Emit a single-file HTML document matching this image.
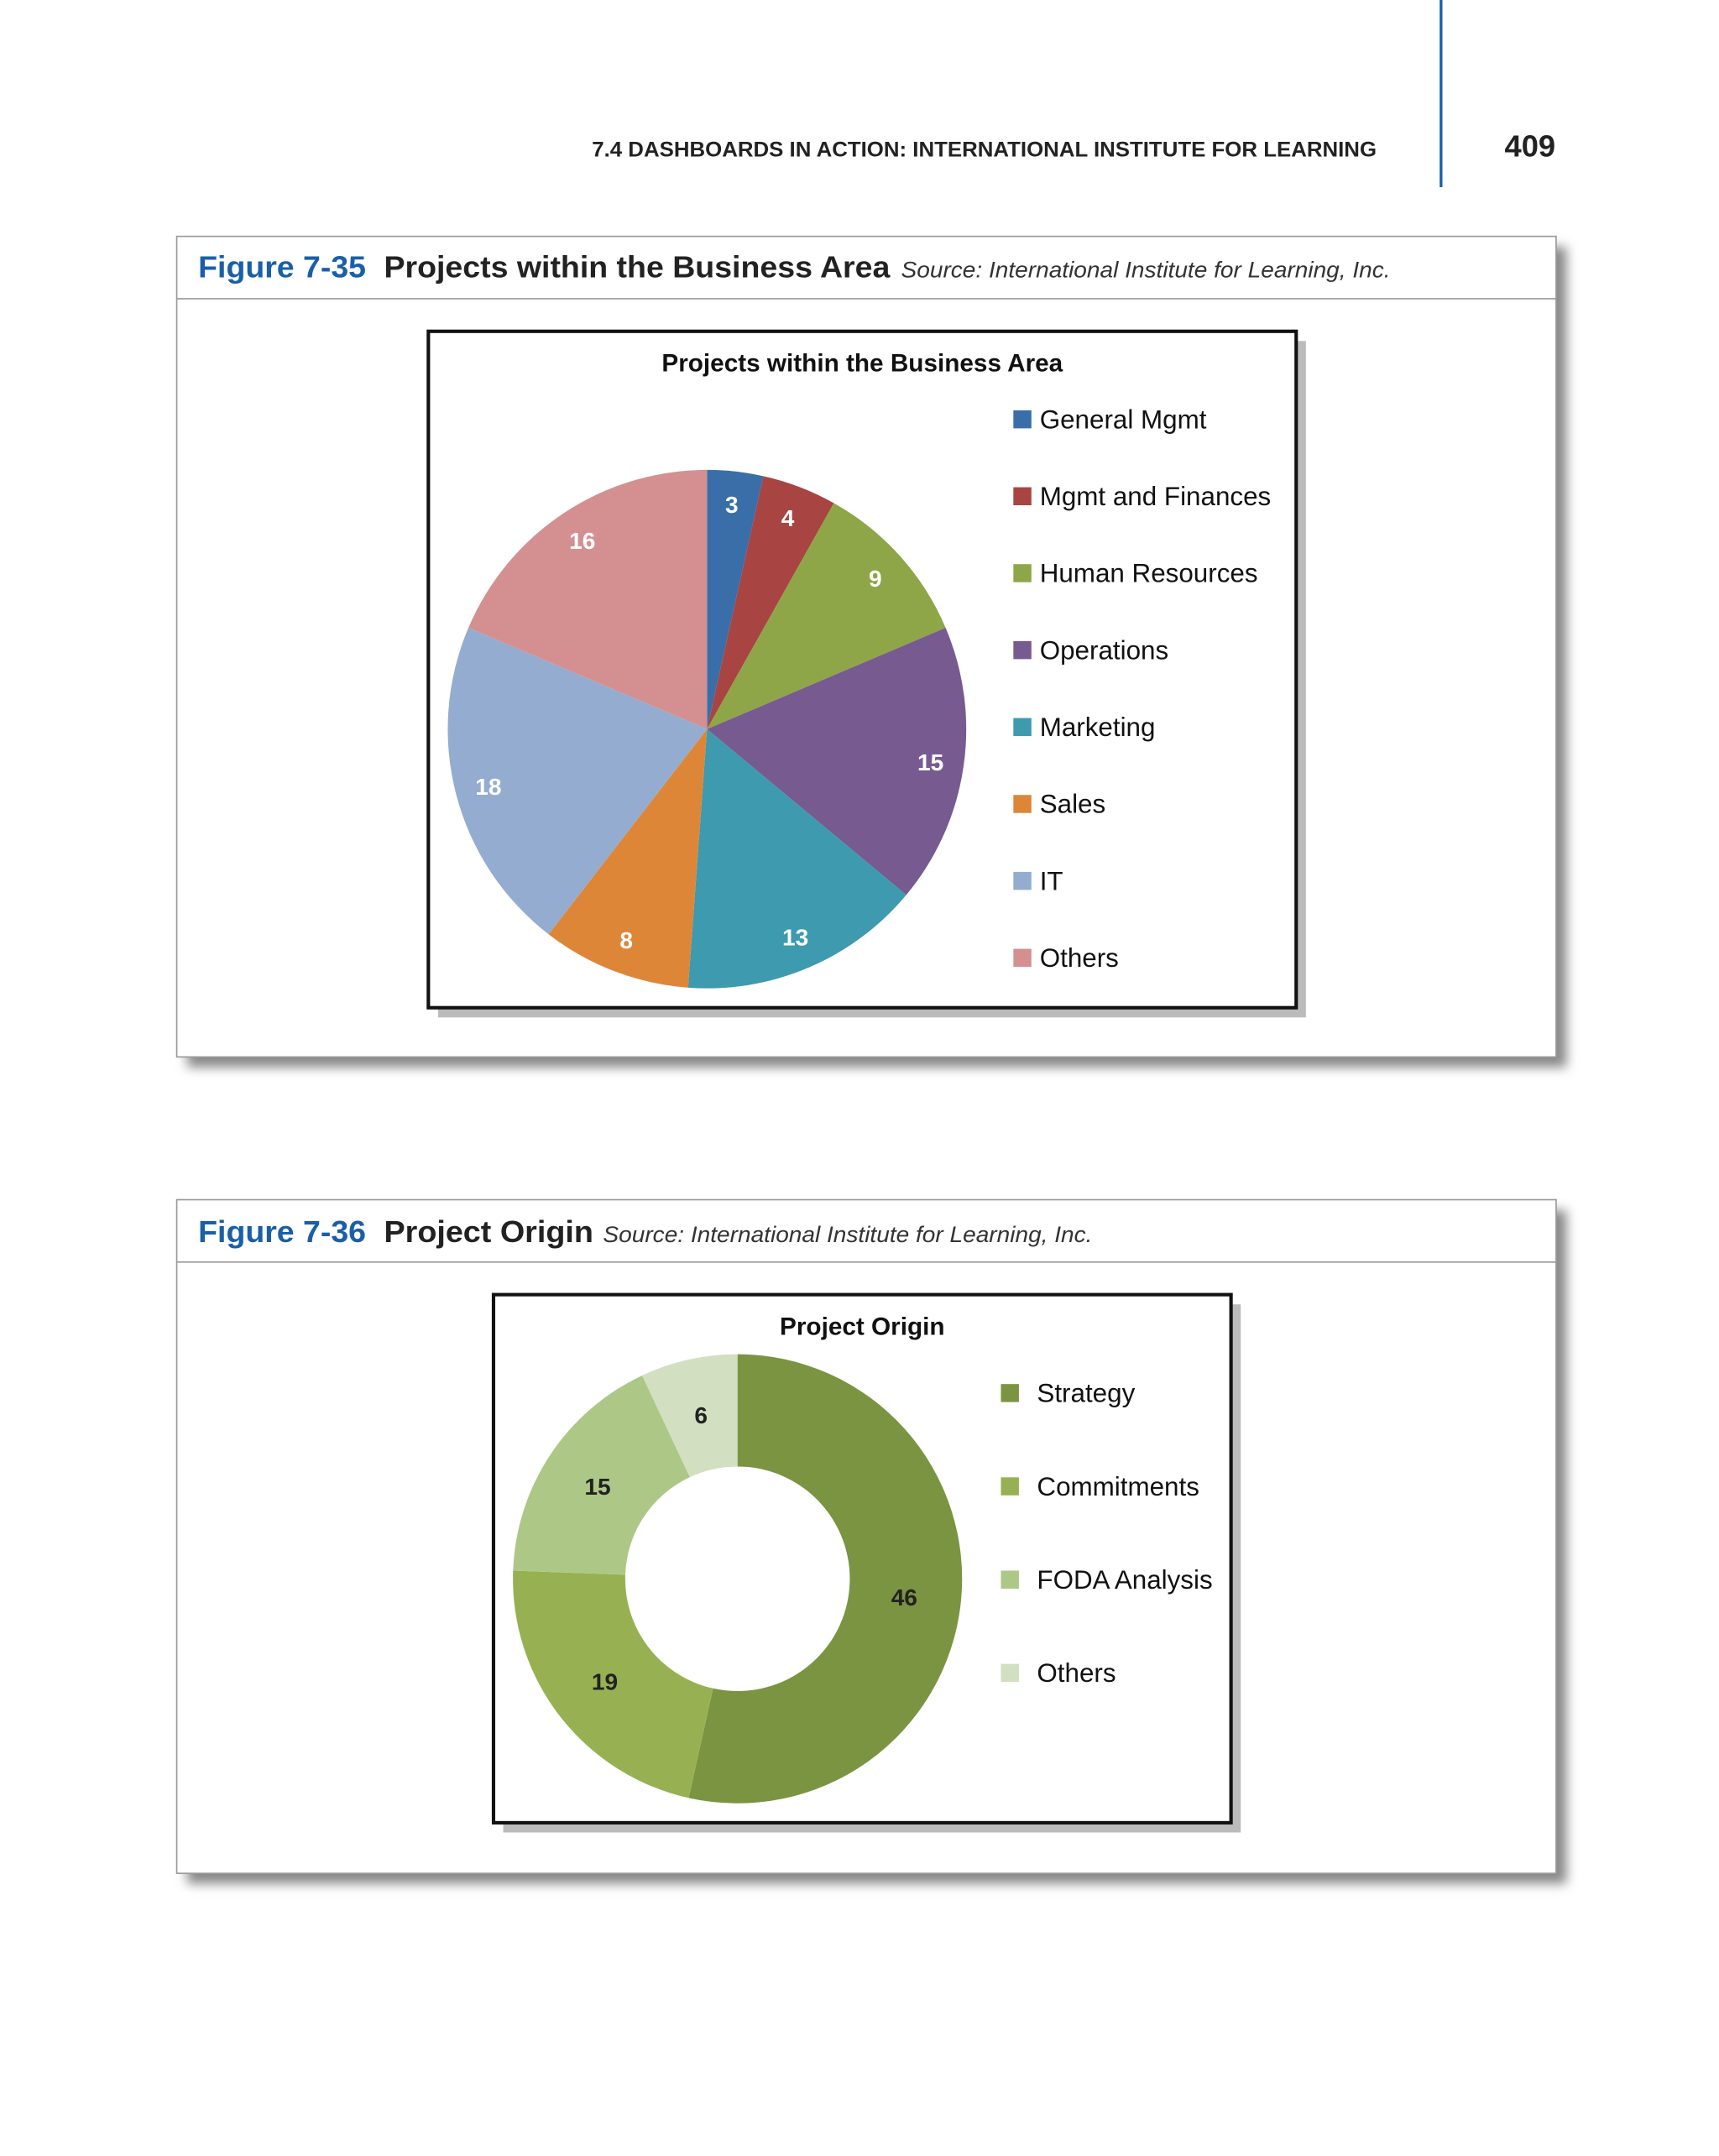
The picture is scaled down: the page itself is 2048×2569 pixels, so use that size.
<!DOCTYPE html>
<html><head><meta charset="utf-8"><style>
html,body{margin:0;padding:0;background:#fff;}
svg{display:block;font-family:"Liberation Sans",sans-serif;}
</style></head><body>
<svg id="page" width="2048" height="2569" viewBox="0 0 1240 1555.4">
<defs>
<filter id="blur" x="-5%" y="-5%" width="110%" height="115%"><feGaussianBlur stdDeviation="4"/></filter>
</defs>
<line x1="1039.5" y1="0" x2="1039.5" y2="135" stroke="#1a5fa8" stroke-width="2"/>
<text x="427" y="113" textLength="566" lengthAdjust="spacingAndGlyphs" font-size="15" font-weight="bold" fill="#222">7.4  DASHBOARDS IN ACTION: INTERNATIONAL INSTITUTE FOR LEARNING</text>
<text x="1122" y="113" text-anchor="end" font-size="22" font-weight="bold" fill="#222">409</text>

<!-- Figure 1 -->
<g>
<rect x="135" y="178" width="995" height="592" fill="#888" filter="url(#blur)"/>
<rect x="127.5" y="170.5" width="995" height="592" fill="#fff" stroke="#999"/>
<line x1="127.5" y1="215.5" x2="1122.5" y2="215.5" stroke="#999"/>
<g>
<text x="143" y="200" textLength="121" lengthAdjust="spacingAndGlyphs" font-size="22" font-weight="bold" fill="#1a5fa8">Figure 7-35</text>
<text x="277" y="200" textLength="365" lengthAdjust="spacingAndGlyphs" font-size="22" font-weight="bold" fill="#222">Projects within the Business Area</text>
<text x="650" y="200" textLength="353" lengthAdjust="spacingAndGlyphs" font-size="16" font-style="italic" fill="#333">Source: International Institute for Learning, Inc.</text>
</g>
<rect x="316" y="246" width="626" height="488" fill="#bbb"/>
<rect x="309" y="239" width="626" height="488" fill="#fff" stroke="#111" stroke-width="2.5"/>
<text x="622" y="268" text-anchor="middle" font-size="18" font-weight="bold" fill="#111">Projects within the Business Area</text>
<g id="pie"></g>
<g id="pieLegend"></g>
</g>

<!-- Figure 2 -->
<g>
<rect x="135" y="873" width="995" height="486" fill="#888" filter="url(#blur)"/>
<rect x="127.5" y="865.5" width="995" height="486" fill="#fff" stroke="#999"/>
<line x1="127.5" y1="910.5" x2="1122.5" y2="910.5" stroke="#999"/>
<g>
<text x="143" y="896" textLength="121" lengthAdjust="spacingAndGlyphs" font-size="22" font-weight="bold" fill="#1a5fa8">Figure 7-36</text>
<text x="277" y="896" textLength="151" lengthAdjust="spacingAndGlyphs" font-size="22" font-weight="bold" fill="#222">Project Origin</text>
<text x="435" y="896" textLength="353" lengthAdjust="spacingAndGlyphs" font-size="16" font-style="italic" fill="#333">Source: International Institute for Learning, Inc.</text>
</g>
<rect x="363" y="941" width="532" height="381" fill="#bbb"/>
<rect x="356" y="934" width="532" height="381" fill="#fff" stroke="#111" stroke-width="2.5"/>
<text x="622" y="963" text-anchor="middle" font-size="18" font-weight="bold" fill="#111">Project Origin</text>
<g id="donut"></g>
<g id="donutLegend"></g>
</g>
</svg>
<script>
const pieCategories = ["General Mgmt","Mgmt and Finances","Human Resources","Operations","Marketing","Sales","IT","Others"];
const pieValues = [3,4,9,15,13,8,18,16];
const pieColors = ["#3a6ea8","#a84442","#8ea648","#775a90","#3d9aaf","#de8637","#94acd0","#d49090"];
const donutCategories = ["Strategy","Commitments","FODA Analysis","Others"];
const donutValues = [46,19,15,6];
const donutColors = ["#7b9441","#97b152","#adc886","#d2dfc1"];
const NS="http://www.w3.org/2000/svg";
function mk(tag,attrs,parent){const e=document.createElementNS(NS,tag);for(const k in attrs)e.setAttribute(k,attrs[k]);parent.appendChild(e);return e;}
function pt(cx,cy,r,a){return [cx+r*Math.sin(a),cy-r*Math.cos(a)];}
function drawRing(g,vals,cols,cats,cx,cy,R,r0,lr,lblColor,prefix){
  const tot=vals.reduce((a,b)=>a+b,0);let a=0;
  vals.forEach((v,i)=>{
    const a1=a+v/tot*2*Math.PI;const big=(a1-a)>Math.PI?1:0;
    const [x0,y0]=pt(cx,cy,R,a),[x1,y1]=pt(cx,cy,R,a1);
    let d;
    if(r0>0){const [x2,y2]=pt(cx,cy,r0,a1),[x3,y3]=pt(cx,cy,r0,a);
      d=`M${x0},${y0}A${R},${R} 0 ${big} 1 ${x1},${y1}L${x2},${y2}A${r0},${r0} 0 ${big} 0 ${x3},${y3}Z`;}
    else d=`M${cx},${cy}L${x0},${y0}A${R},${R} 0 ${big} 1 ${x1},${y1}Z`;
    const p=mk('path',{d:d,fill:cols[i]},g);
    
    
    const [lx,ly]=pt(cx,cy,lr,(a+a1)/2);
    const t=mk('text',{x:lx,y:ly+6,'text-anchor':'middle','font-size':17,'font-weight':'bold',fill:lblColor},g);
    t.textContent=v;
    
    
    a=a1;
  });
}
function drawLegend(g,cats,cols,x,y0,dy,prefix,gap){
  cats.forEach((c,i)=>{
    const y=y0+i*dy;
    const s=mk('rect',{x:x,y:y-6.5,width:13,height:13,fill:cols[i]},g);
    
    
    const t=mk('text',{x:x+gap,y:y+6.5,'font-size':19,fill:'#111'},g);
    t.textContent=c;
    
    
  });
}
drawRing(document.getElementById('pie'),pieValues,pieColors,pieCategories,510,526,187,0,163,'#fff','pie');
drawLegend(document.getElementById('pieLegend'),pieCategories,pieColors,731,302.5,55.5,'pie',19);
drawRing(document.getElementById('donut'),donutValues,donutColors,donutCategories,532,1139,162,81,121,'#222','donut');
drawLegend(document.getElementById('donutLegend'),donutCategories,donutColors,722,1005,67.3,'donut',26);
</script>
</body></html>
